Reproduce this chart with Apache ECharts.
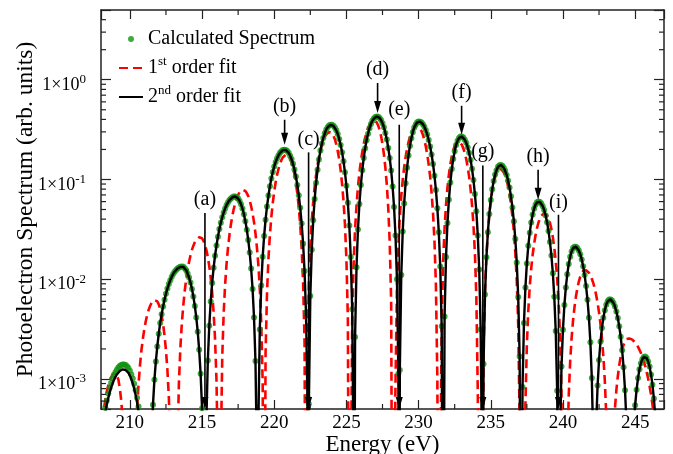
<!DOCTYPE html>
<html>
<head>
<meta charset="utf-8">
<script src="https://cdn.jsdelivr.net/npm/echarts@6/dist/echarts.min.js"></script>
<style>
  html, body { margin: 0; padding: 0; background: #fff; }
  #chart { width: 673px; height: 454px; }
</style>
</head>
<body>
<div id="chart"></div>
<script>
// energy grid of the spectrum (eV)
const energy = [
  208.0,208.1,208.2,208.3,208.4,208.5,208.6,208.7,208.8,208.9,
  209.0,209.1,209.2,209.3,209.4,209.5,209.6,209.7,209.8,209.9,
  210.0,210.1,210.2,210.3,210.4,210.5,210.6,210.7,210.8,210.9,
  211.0,211.1,211.2,211.3,211.4,211.5,211.6,211.7,211.8,211.9,
  212.0,212.1,212.2,212.3,212.4,212.5,212.6,212.7,212.8,212.9,
  213.0,213.1,213.2,213.3,213.4,213.5,213.6,213.7,213.8,213.9,
  214.0,214.1,214.2,214.3,214.4,214.5,214.6,214.7,214.8,214.9,
  215.0,215.1,215.2,215.3,215.4,215.5,215.6,215.7,215.8,215.9,
  216.0,216.1,216.2,216.3,216.4,216.5,216.6,216.7,216.8,216.9,
  217.0,217.1,217.2,217.3,217.4,217.5,217.6,217.7,217.8,217.9,
  218.0,218.1,218.2,218.3,218.4,218.5,218.6,218.7,218.8,218.9,
  219.0,219.1,219.2,219.3,219.4,219.5,219.6,219.7,219.8,219.9,
  220.0,220.1,220.2,220.3,220.4,220.5,220.6,220.7,220.8,220.9,
  221.0,221.1,221.2,221.3,221.4,221.5,221.6,221.7,221.8,221.9,
  222.0,222.1,222.2,222.3,222.4,222.5,222.6,222.7,222.8,222.9,
  223.0,223.1,223.2,223.3,223.4,223.5,223.6,223.7,223.8,223.9,
  224.0,224.1,224.2,224.3,224.4,224.5,224.6,224.7,224.8,224.9,
  225.0,225.1,225.2,225.3,225.4,225.5,225.6,225.7,225.8,225.9,
  226.0,226.1,226.2,226.3,226.4,226.5,226.6,226.7,226.8,226.9,
  227.0,227.1,227.2,227.3,227.4,227.5,227.6,227.7,227.8,227.9,
  228.0,228.1,228.2,228.3,228.4,228.5,228.6,228.7,228.8,228.9,
  229.0,229.1,229.2,229.3,229.4,229.5,229.6,229.7,229.8,229.9,
  230.0,230.1,230.2,230.3,230.4,230.5,230.6,230.7,230.8,230.9,
  231.0,231.1,231.2,231.3,231.4,231.5,231.6,231.7,231.8,231.9,
  232.0,232.1,232.2,232.3,232.4,232.5,232.6,232.7,232.8,232.9,
  233.0,233.1,233.2,233.3,233.4,233.5,233.6,233.7,233.8,233.9,
  234.0,234.1,234.2,234.3,234.4,234.5,234.6,234.7,234.8,234.9,
  235.0,235.1,235.2,235.3,235.4,235.5,235.6,235.7,235.8,235.9,
  236.0,236.1,236.2,236.3,236.4,236.5,236.6,236.7,236.8,236.9,
  237.0,237.1,237.2,237.3,237.4,237.5,237.6,237.7,237.8,237.9,
  238.0,238.1,238.2,238.3,238.4,238.5,238.6,238.7,238.8,238.9,
  239.0,239.1,239.2,239.3,239.4,239.5,239.6,239.7,239.8,239.9,
  240.0,240.1,240.2,240.3,240.4,240.5,240.6,240.7,240.8,240.9,
  241.0,241.1,241.2,241.3,241.4,241.5,241.6,241.7,241.8,241.9,
  242.0,242.1,242.2,242.3,242.4,242.5,242.6,242.7,242.8,242.9,
  243.0,243.1,243.2,243.3,243.4,243.5,243.6,243.7,243.8,243.9,
  244.0,244.1,244.2,244.3,244.4,244.5,244.6,244.7,244.8,244.9,
  245.0,245.1,245.2,245.3,245.4,245.5,245.6,245.7,245.8,245.9,
  246.0,246.1,246.2,246.3,246.4,246.5,246.6,246.7,246.8,246.9,
  247.0
];

// green dots
const calcSpectrum = [
  2.52e-4,3.30e-4,4.2e-4,5.15e-4,6.1e-4,7.15e-4,8.15e-4,9.1e-4,1.01e-3,1.10e-3,
  1.17e-3,1.24e-3,1.30e-3,1.35e-3,1.38e-3,1.40e-3,1.40e-3,1.38e-3,1.34e-3,1.29e-3,
  1.21e-3,1.11e-3,1.01e-3,8.95e-4,7.7e-4,6.5e-4,5.3e-4,4.1e-4,3.05e-4,2.1e-4,
  1.3e-4,6.7e-5,2.4e-5,2e-6,6.2e-5,2.5e-4,5.5e-4,9.8e-4,1.5e-3,2.12e-3,
  2.84e-3,3.64e-3,4.46e-3,5.34e-3,6.24e-3,7.16e-3,8.06e-3,8.94e-3,9.78e-3,1.06e-2,
  1.13e-2,1.19e-2,1.24e-2,1.28e-2,1.31e-2,1.33e-2,1.34e-2,1.33e-2,1.29e-2,1.23e-2,
  1.14e-2,1.04e-2,9.26e-3,8.0e-3,6.7e-3,5.39e-3,4.14e-3,2.98e-3,1.96e-3,1.13e-3,
  5.1e-4,1.3e-4,1e-6,3.85e-4,1.53e-3,3.41e-3,5.98e-3,9.19e-3,1.30e-2,1.72e-2,
  2.18e-2,2.67e-2,3.18e-2,3.69e-2,4.19e-2,4.67e-2,5.13e-2,5.54e-2,5.91e-2,6.22e-2,
  6.46e-2,6.63e-2,6.74e-2,6.76e-2,6.67e-2,6.44e-2,6.09e-2,5.65e-2,5.11e-2,4.48e-2,
  3.82e-2,3.14e-2,2.48e-2,1.85e-2,1.28e-2,7.96e-3,4.14e-3,1.51e-3,1.69e-4,3.5e-4,
  3.14e-3,8.64e-3,1.68e-2,2.71e-2,3.95e-2,5.36e-2,6.91e-2,8.53e-2,0.102,0.119,
  0.135,0.150,0.163,0.175,0.185,0.192,0.197,0.199,0.198,0.193,
  0.185,0.173,0.160,0.144,0.126,0.107,8.81e-2,6.95e-2,5.20e-2,3.62e-2,
  2.27e-2,1.21e-2,4.64e-3,6.6e-4,5.6e-4,6.8e-3,1.98e-2,3.89e-2,6.36e-2,9.26e-2,
  0.125,0.159,0.195,0.229,0.261,0.290,0.315,0.334,0.347,0.353,
  0.353,0.345,0.332,0.311,0.285,0.255,0.222,0.188,0.152,0.118,
  8.65e-2,5.83e-2,3.46e-2,1.67e-2,5.0e-3,1.4e-4,2.64e-3,1.32e-2,3.15e-2,5.69e-2,
  8.82e-2,0.124,0.164,0.206,0.247,0.288,0.326,0.359,0.387,0.408,
  0.422,0.428,0.425,0.414,0.394,0.366,0.333,0.293,0.251,0.207,
  0.164,0.123,8.5e-2,5.29e-2,2.75e-2,1.0e-2,1.13e-3,1.23e-3,1.10e-2,3.01e-2,
  5.75e-2,9.17e-2,0.131,0.174,0.217,0.259,0.298,0.331,0.356,0.374,
  0.382,0.380,0.372,0.358,0.338,0.312,0.282,0.249,0.214,0.178,
  0.143,0.109,7.85e-2,5.16e-2,2.96e-2,1.34e-2,3.37e-3,1e-6,4.24e-3,1.67e-2,
  3.66e-2,6.27e-2,9.33e-2,0.127,0.160,0.192,0.221,0.244,0.261,0.269,
  0.269,0.263,0.250,0.233,0.211,0.185,0.157,0.128,9.89e-2,7.17e-2,
  4.81e-2,2.75e-2,1.25e-2,3.14e-3,1.3e-4,1.41e-3,7.03e-3,1.66e-2,2.96e-2,4.51e-2,
  6.21e-2,7.96e-2,9.66e-2,0.112,0.124,0.134,0.139,0.140,0.137,0.131,
  0.122,0.111,9.77e-2,8.30e-2,6.77e-2,5.25e-2,3.82e-2,2.53e-2,1.47e-2,6.65e-3,
  1.68e-3,1e-6,8.3e-4,3.64e-3,8.27e-3,1.44e-2,2.16e-2,2.93e-2,3.71e-2,4.45e-2,
  5.08e-2,5.58e-2,5.90e-2,6.02e-2,5.96e-2,5.74e-2,5.40e-2,4.93e-2,4.36e-2,3.72e-2,
  3.04e-2,2.36e-2,1.73e-2,1.15e-2,6.66e-3,3.02e-3,7.6e-4,3e-5,2.66e-4,1.33e-3,
  3.12e-3,5.50e-3,8.28e-3,1.12e-2,1.42e-2,1.68e-2,1.90e-2,2.05e-2,2.12e-2,2.12e-2,
  2.06e-2,1.94e-2,1.78e-2,1.58e-2,1.35e-2,1.10e-2,8.55e-3,6.22e-3,4.11e-3,2.33e-3,
  1.02e-3,2.3e-4,6e-5,3.51e-4,8.61e-4,1.55e-3,2.36e-3,3.24e-3,4.11e-3,4.90e-3,
  5.56e-3,6.02e-3,6.27e-3,6.28e-3,6.12e-3,5.79e-3,5.33e-3,4.76e-3,4.08e-3,3.37e-3,
  2.65e-3,1.94e-3,1.31e-3,7.7e-4,3.63e-4,1.0e-4,1e-6,5.0e-5,1.63e-4,3.32e-4,
  5.44e-4,7.80e-4,1.02e-3,1.25e-3,1.44e-3,1.58e-3,1.66e-3,1.68e-3,1.62e-3,1.50e-3,
  1.33e-3,1.11e-3,8.76e-4,6.36e-4,4.12e-4,2.25e-4,8.8e-5,1.3e-5,1e-5,3e-5,
  6e-5
];

// red dashed, 1st order fit
const fit1st = [
  2.74e-4,3.84e-4,5.0e-4,6.23e-4,7.43e-4,8.56e-4,9.55e-4,1.04e-3,1.10e-3,1.14e-3,
  1.15e-3,1.11e-3,9.93e-4,8.15e-4,6.08e-4,3.93e-4,2.04e-4,6.8e-5,3.7e-6,1e-6,
  1e-6,1e-6,1e-6,4.1e-5,2.07e-4,4.92e-4,8.79e-4,1.37e-3,1.94e-3,2.53e-3,
  3.16e-3,3.79e-3,4.39e-3,4.93e-3,5.39e-3,5.77e-3,6.04e-3,6.18e-3,6.18e-3,5.99e-3,
  5.60e-3,5.03e-3,4.34e-3,3.55e-3,2.73e-3,1.94e-3,1.23e-3,6.52e-4,2.41e-4,2.7e-5,
  1e-6,1e-6,1e-6,2.35e-4,9.35e-4,2.07e-3,3.61e-3,5.48e-3,7.62e-3,9.99e-3,
  1.25e-2,1.49e-2,1.74e-2,1.97e-2,2.17e-2,2.35e-2,2.48e-2,2.58e-2,2.63e-2,2.63e-2,
  2.57e-2,2.43e-2,2.22e-2,1.96e-2,1.67e-2,1.35e-2,1.03e-2,7.36e-3,4.69e-3,2.52e-3,
  9.74e-4,1.37e-4,1e-6,1.9e-4,1.69e-3,4.66e-3,8.94e-3,1.44e-2,2.09e-2,2.80e-2,
  3.55e-2,4.33e-2,5.08e-2,5.79e-2,6.44e-2,6.99e-2,7.42e-2,7.71e-2,7.86e-2,7.86e-2,
  7.67e-2,7.30e-2,6.81e-2,6.16e-2,5.40e-2,4.58e-2,3.73e-2,2.89e-2,2.09e-2,1.40e-2,
  8.04e-3,3.64e-3,9.14e-4,1e-6,1.84e-3,7.27e-3,1.61e-2,2.78e-2,4.22e-2,5.83e-2,
  7.59e-2,9.39e-2,0.112,0.128,0.144,0.157,0.167,0.173,0.177,0.176,
  0.171,0.162,0.148,0.132,0.113,9.26e-2,7.22e-2,5.27e-2,3.52e-2,2.04e-2,
  9.26e-3,2.35e-3,1e-6,1.78e-3,8.93e-3,2.13e-2,3.84e-2,5.97e-2,8.45e-2,0.111,
  0.140,0.169,0.197,0.223,0.247,0.267,0.283,0.294,0.299,0.299,
  0.291,0.275,0.253,0.225,0.193,0.159,0.124,9.04e-2,6.04e-2,3.51e-2,
  1.59e-2,4.05e-3,1e-6,1e-6,3.6e-3,1.43e-2,3.17e-2,5.48e-2,8.37e-2,0.117,
  0.152,0.189,0.227,0.263,0.297,0.327,0.352,0.371,0.384,0.390,
  0.387,0.373,0.348,0.314,0.273,0.226,0.178,0.131,8.8e-2,5.12e-2,
  2.34e-2,5.93e-3,1e-6,1e-6,9.0e-4,8.11e-3,2.22e-2,4.26e-2,6.85e-2,9.88e-2,
  0.132,0.167,0.203,0.236,0.268,0.295,0.317,0.333,0.343,0.345,
  0.339,0.326,0.306,0.280,0.249,0.214,0.178,0.141,0.107,7.38e-2,
  4.62e-2,2.41e-2,8.76e-3,9.9e-4,1e-6,1e-6,3.77e-3,1.48e-2,3.25e-2,5.57e-2,
  8.29e-2,0.112,0.142,0.171,0.196,0.217,0.232,0.239,0.239,0.233,
  0.222,0.205,0.184,0.160,0.133,0.107,8.03e-2,5.61e-2,3.51e-2,1.84e-2,
  6.72e-3,7.5e-4,1e-6,1e-6,1e-6,2.01e-3,7.91e-3,1.73e-2,2.97e-2,4.42e-2,
  6.0e-2,7.6e-2,9.13e-2,0.105,0.116,0.124,0.128,0.128,0.124,0.118,
  0.109,9.81e-2,8.51e-2,7.12e-2,5.68e-2,4.28e-2,2.99e-2,1.87e-2,9.8e-3,3.58e-3,
  4.0e-4,1e-6,1e-6,1e-6,5.57e-4,2.21e-3,4.89e-3,8.44e-3,1.27e-2,1.75e-2,
  2.25e-2,2.76e-2,3.24e-2,3.68e-2,4.05e-2,4.33e-2,4.52e-2,4.6e-2,4.56e-2,4.38e-2,
  4.08e-2,3.67e-2,3.18e-2,2.64e-2,2.07e-2,1.52e-2,1.02e-2,5.97e-3,2.72e-3,6.9e-4,
  1e-6,1e-6,1e-6,1.72e-4,6.78e-4,1.50e-3,2.57e-3,3.86e-3,5.25e-3,6.71e-3,
  8.14e-3,9.47e-3,1.06e-2,1.15e-2,1.21e-2,1.24e-2,1.23e-2,1.21e-2,1.16e-2,1.10e-2,
  1.01e-2,9.17e-3,8.09e-3,6.96e-3,5.79e-3,4.64e-3,3.55e-3,2.55e-3,1.68e-3,9.62e-4,
  4.34e-4,1.09e-4,1e-6,2.4e-5,1.19e-4,2.82e-4,5.03e-4,7.71e-4,1.06e-3,1.37e-3,
  1.68e-3,1.96e-3,2.20e-3,2.38e-3,2.51e-3,2.56e-3,2.55e-3,2.53e-3,2.48e-3,2.41e-3,
  2.32e-3,2.22e-3,2.10e-3,1.96e-3,1.82e-3,1.66e-3,1.50e-3,1.34e-3,1.17e-3,1.01e-3,
  8.48e-4,6.98e-4,5.56e-4,4.24e-4,3.11e-4,2.10e-4,1.28e-4,6.6e-5,2.4e-5,2.6e-6,
  1e-6
];

// black solid, 2nd order fit
const fit2nd = [
  2.25e-4,2.95e-4,3.75e-4,4.6e-4,5.5e-4,6.4e-4,7.3e-4,8.2e-4,9.0e-4,9.8e-4,
  1.05e-3,1.11e-3,1.16e-3,1.20e-3,1.23e-3,1.25e-3,1.25e-3,1.23e-3,1.20e-3,1.15e-3,
  1.08e-3,9.95e-4,9.0e-4,8.0e-4,6.9e-4,5.8e-4,4.7e-4,3.7e-4,2.7e-4,1.9e-4,
  1.2e-4,6e-5,2.2e-5,2e-6,6.2e-5,2.5e-4,5.5e-4,9.8e-4,1.5e-3,2.12e-3,
  2.84e-3,3.64e-3,4.46e-3,5.34e-3,6.24e-3,7.16e-3,8.06e-3,8.94e-3,9.78e-3,1.06e-2,
  1.13e-2,1.19e-2,1.24e-2,1.28e-2,1.31e-2,1.33e-2,1.34e-2,1.33e-2,1.29e-2,1.23e-2,
  1.14e-2,1.04e-2,9.26e-3,8.0e-3,6.7e-3,5.39e-3,4.14e-3,2.98e-3,1.96e-3,1.13e-3,
  5.1e-4,1.3e-4,1e-6,3.85e-4,1.53e-3,3.41e-3,5.98e-3,9.19e-3,1.30e-2,1.72e-2,
  2.18e-2,2.67e-2,3.18e-2,3.69e-2,4.19e-2,4.67e-2,5.13e-2,5.54e-2,5.91e-2,6.22e-2,
  6.46e-2,6.63e-2,6.74e-2,6.76e-2,6.67e-2,6.44e-2,6.09e-2,5.65e-2,5.11e-2,4.48e-2,
  3.82e-2,3.14e-2,2.48e-2,1.85e-2,1.28e-2,7.96e-3,4.14e-3,1.51e-3,1.69e-4,3.5e-4,
  3.14e-3,8.64e-3,1.68e-2,2.71e-2,3.95e-2,5.36e-2,6.91e-2,8.53e-2,0.102,0.119,
  0.135,0.150,0.163,0.175,0.185,0.192,0.197,0.199,0.198,0.193,
  0.185,0.173,0.160,0.144,0.126,0.107,8.81e-2,6.95e-2,5.20e-2,3.62e-2,
  2.27e-2,1.21e-2,4.64e-3,6.6e-4,5.6e-4,6.8e-3,1.98e-2,3.89e-2,6.36e-2,9.26e-2,
  0.125,0.159,0.195,0.229,0.261,0.290,0.315,0.334,0.347,0.353,
  0.353,0.345,0.332,0.311,0.285,0.255,0.222,0.188,0.152,0.118,
  8.65e-2,5.83e-2,3.46e-2,1.67e-2,5.0e-3,1.4e-4,2.64e-3,1.32e-2,3.15e-2,5.69e-2,
  8.82e-2,0.124,0.164,0.206,0.247,0.288,0.326,0.359,0.387,0.408,
  0.422,0.428,0.425,0.414,0.394,0.366,0.333,0.293,0.251,0.207,
  0.164,0.123,8.5e-2,5.29e-2,2.75e-2,1.0e-2,1.13e-3,1.23e-3,1.10e-2,3.01e-2,
  5.75e-2,9.17e-2,0.131,0.174,0.217,0.259,0.298,0.331,0.356,0.374,
  0.382,0.380,0.372,0.358,0.338,0.312,0.282,0.249,0.214,0.178,
  0.143,0.109,7.85e-2,5.16e-2,2.96e-2,1.34e-2,3.37e-3,1e-6,4.24e-3,1.67e-2,
  3.66e-2,6.27e-2,9.33e-2,0.127,0.160,0.192,0.221,0.244,0.261,0.269,
  0.269,0.263,0.250,0.233,0.211,0.185,0.157,0.128,9.89e-2,7.17e-2,
  4.81e-2,2.75e-2,1.25e-2,3.14e-3,1.3e-4,1.41e-3,7.03e-3,1.66e-2,2.96e-2,4.51e-2,
  6.21e-2,7.96e-2,9.66e-2,0.112,0.124,0.134,0.139,0.140,0.137,0.131,
  0.122,0.111,9.77e-2,8.30e-2,6.77e-2,5.25e-2,3.82e-2,2.53e-2,1.47e-2,6.65e-3,
  1.68e-3,1e-6,8.3e-4,3.64e-3,8.27e-3,1.44e-2,2.16e-2,2.93e-2,3.71e-2,4.45e-2,
  5.08e-2,5.58e-2,5.90e-2,6.02e-2,5.96e-2,5.74e-2,5.40e-2,4.93e-2,4.36e-2,3.72e-2,
  3.04e-2,2.36e-2,1.73e-2,1.15e-2,6.66e-3,3.02e-3,7.6e-4,3e-5,2.66e-4,1.33e-3,
  3.12e-3,5.50e-3,8.28e-3,1.12e-2,1.42e-2,1.68e-2,1.90e-2,2.05e-2,2.12e-2,2.12e-2,
  2.06e-2,1.94e-2,1.78e-2,1.58e-2,1.35e-2,1.10e-2,8.55e-3,6.22e-3,4.11e-3,2.33e-3,
  1.02e-3,2.3e-4,6e-5,3.51e-4,8.61e-4,1.55e-3,2.36e-3,3.24e-3,4.11e-3,4.90e-3,
  5.56e-3,6.02e-3,6.27e-3,6.28e-3,6.12e-3,5.79e-3,5.33e-3,4.76e-3,4.08e-3,3.37e-3,
  2.65e-3,1.94e-3,1.31e-3,7.7e-4,3.63e-4,1.0e-4,1e-6,5.0e-5,1.63e-4,3.32e-4,
  5.44e-4,7.80e-4,1.02e-3,1.25e-3,1.44e-3,1.58e-3,1.66e-3,1.68e-3,1.62e-3,1.50e-3,
  1.33e-3,1.11e-3,8.76e-4,6.36e-4,4.12e-4,2.25e-4,8.8e-5,1.3e-5,1e-5,3e-5,
  6e-5
];
// minima of the 2nd order fit between grid points (value ~0)
const fit2ndZeros = [218.85, 222.36, 225.52, 228.65, 234.42, 237.11, 239.72, 242.16];
const zeroLevel = 1e-6;

// arrows and labels
const markLabels = ["(a)", "(b)", "(c)", "(d)", "(e)", "(f)", "(g)", "(h)", "(i)"];
const markEnergy = [215.2, 220.72, 222.38, 227.16, 228.66, 232.98, 234.45, 238.28, 239.69];
const markStart  = [0.046, 0.397, 0.187, 0.927, 0.354, 0.548, 0.138, 0.125, 0.0443];
const markTip    = [5e-4, 0.223, 5e-4, 0.463, 5e-4, 0.281, 5e-4, 0.0626, 5e-4];
const markTextY  = [0.0625, 0.54, 0.25, 1.26, 0.5, 0.736, 0.191, 0.17, 0.058];

// axis ticks
const xMin = 208, xMax = 247;
const yMin = 5e-4, yMax = 5;
const yTickExponents = [-3, -2, -1, 0];
const xMinorTicks = [212.5, 217.5, 222.5, 227.5, 232.5, 237.5, 242.5];
const yMinorTicks = [
  6e-4, 7e-4, 8e-4, 9e-4,
  2e-3, 3e-3, 4e-3, 5e-3, 6e-3, 7e-3, 8e-3, 9e-3,
  2e-2, 3e-2, 4e-2, 5e-2, 6e-2, 7e-2, 8e-2, 9e-2,
  0.2, 0.3, 0.4, 0.5, 0.6, 0.7, 0.8, 0.9,
  2, 3, 4
];

const FONT = '"Liberation Serif", "Times New Roman", serif';
const axisColor = "#222";

const calcData = energy.map((e, i) => [e, calcSpectrum[i]]);
const fit1Data = energy.map((e, i) => [e, fit1st[i]]);
const fit2Data = energy.map((e, i) => [e, fit2nd[i]])
  .concat(fit2ndZeros.map((e) => [e, zeroLevel]))
  .sort((a, b) => a[0] - b[0]);
const markData = markEnergy.map((e, i) => [e, markStart[i], markTip[i], markTextY[i]]);

const chart = echarts.init(document.getElementById("chart"));

const baseAxisLine = { show: true, lineStyle: { color: axisColor, width: 1.5 } };
const hiddenSymbol = { opacity: 0, borderWidth: 0 };

const option = {
  animation: false,
  backgroundColor: "#fff",
  grid: { left: 101, right: 9, top: 10, bottom: 45, outerBoundsMode: "none", containLabel: false },
  legend: {
    data: [
      { name: "Calculated Spectrum" },
      { name: "1st order fit", itemStyle: hiddenSymbol },
      { name: "2nd order fit", itemStyle: hiddenSymbol },
    ],
    orient: "vertical",
    left: 113,
    top: 24,
    itemWidth: 24,
    itemHeight: 6,
    itemGap: 6,
    itemTextGap: 11,
    selectedMode: false,
    formatter: (name) => {
      const m = name.match(/^(\d)(st|nd)(.*)$/);
      if (!m) return "{t|" + name + "}";
      return "{t|" + m[1] + "}{s|" + m[2] + "}{t|" + m[3] + "}";
    },
    textStyle: {
      fontFamily: FONT,
      fontSize: 20,
      color: "#000",
      rich: {
        t: { fontFamily: FONT, fontSize: 20, lineHeight: 26, color: "#000" },
        s: { fontFamily: FONT, fontSize: 13, lineHeight: 13, verticalAlign: "top", color: "#000" },
      },
    },
  },
  xAxis: [
    {
      type: "value",
      min: xMin,
      max: xMax,
      splitNumber: 8,
      name: "Energy (eV)",
      nameLocation: "middle",
      nameGap: 24,
      nameMoveOverlap: false,
      nameTextStyle: { fontFamily: FONT, fontSize: 23, color: "#000" },
      axisLine: baseAxisLine,
      axisTick: { show: true, inside: true, length: 9, lineStyle: { color: axisColor, width: 1.2 } },
      axisLabel: {
        margin: 5,
        fontFamily: FONT,
        fontSize: 19,
        color: "#000",
        formatter: (v) => (Math.abs(v % 5) < 1e-9 ? String(v) : ""),
      },
      splitLine: { show: false },
    },
    {
      type: "value",
      position: "top",
      min: xMin,
      max: xMax,
      splitNumber: 8,
      axisLine: baseAxisLine,
      axisTick: { show: true, inside: true, length: 9, lineStyle: { color: axisColor, width: 1.2 } },
      axisLabel: { show: false },
      splitLine: { show: false },
    },
  ],
  yAxis: [
    {
      type: "log",
      logBase: 10,
      min: yMin,
      max: yMax,
      name: "Photoelectron Spectrum (arb. units)",
      nameLocation: "middle",
      nameGap: 63,
      nameMoveOverlap: false,
      nameTextStyle: { fontFamily: FONT, fontSize: 23.5, color: "#000" },
      axisLine: baseAxisLine,
      axisTick: { show: true, inside: true, length: 10, lineStyle: { color: axisColor, width: 1.2 } },
      axisLabel: {
        margin: 15,
        padding: [11, 0, 0, 0],
        formatter: (v) => {
          const e = Math.log10(v);
          const r = Math.round(e);
          if (Math.abs(e - r) > 1e-6 || yTickExponents.indexOf(r) < 0) return "";
          return "{t|1×10}{s|" + r + "}";
        },
        rich: {
          t: { fontFamily: FONT, fontSize: 18, lineHeight: 24, color: "#000" },
          s: { fontFamily: FONT, fontSize: 13, lineHeight: 13, verticalAlign: "top", color: "#000" },
        },
      },
      splitLine: { show: false },
    },
    {
      type: "log",
      logBase: 10,
      position: "right",
      min: yMin,
      max: yMax,
      axisLine: baseAxisLine,
      axisTick: { show: true, inside: true, length: 10, lineStyle: { color: axisColor, width: 1.2 } },
      axisLabel: { show: false },
      splitLine: { show: false },
    },
  ],
  series: [
    {
      name: "1st order fit",
      type: "line",
      data: fit1Data,
      symbol: "none",
      z: 2,
      lineStyle: { color: "#ff0000", width: 2.6, type: [9, 5] },
      itemStyle: { color: "#ff0000" },
    },
    {
      name: "Calculated Spectrum",
      type: "scatter",
      data: calcData,
      symbol: "circle",
      symbolSize: 6,
      z: 3,
      itemStyle: { color: "#129412" },
    },
    {
      name: "2nd order fit",
      type: "line",
      data: fit2Data,
      symbol: "none",
      z: 4,
      lineStyle: { color: "#000", width: 2.4 },
      itemStyle: { color: "#000" },
    },
    {
      // minor ticks on the y axes (left and right)
      type: "custom",
      silent: true,
      z: 5,
      data: yMinorTicks.map((v) => [xMin, v]),
      renderItem: (params, api) => {
        const cs = params.coordSys;
        const y = api.coord([api.value(0), api.value(1)])[1];
        const st = { stroke: axisColor, lineWidth: 1.2 };
        return {
          type: "group",
          children: [
            { type: "line", shape: { x1: cs.x, y1: y, x2: cs.x + 5, y2: y }, style: st },
            { type: "line", shape: { x1: cs.x + cs.width, y1: y, x2: cs.x + cs.width - 5, y2: y }, style: st },
          ],
        };
      },
    },
    {
      // minor ticks on the x axes (bottom and top)
      type: "custom",
      silent: true,
      z: 5,
      data: xMinorTicks.map((v) => [v, 1]),
      renderItem: (params, api) => {
        const cs = params.coordSys;
        const x = api.coord([api.value(0), api.value(1)])[0];
        const st = { stroke: axisColor, lineWidth: 1.2 };
        return {
          type: "group",
          children: [
            { type: "line", shape: { x1: x, y1: cs.y + cs.height, x2: x, y2: cs.y + cs.height - 5 }, style: st },
            { type: "line", shape: { x1: x, y1: cs.y, x2: x, y2: cs.y + 5 }, style: st },
          ],
        };
      },
    },
    {
      // arrows with labels (a)..(i)
      type: "custom",
      silent: true,
      z: 6,
      data: markData,
      renderItem: (params, api) => {
        const e = api.value(0);
        const start = api.coord([e, api.value(1)]);
        const tip = api.coord([e, api.value(2)]);
        const txt = api.coord([e, api.value(3)]);
        const head = 12, half = 3.5;
        return {
          type: "group",
          children: [
            {
              type: "line",
              shape: { x1: start[0], y1: start[1], x2: tip[0], y2: tip[1] - head + 2 },
              style: { stroke: "#000", lineWidth: 1.6 },
            },
            {
              type: "polygon",
              shape: { points: [[tip[0] - half, tip[1] - head], [tip[0] + half, tip[1] - head], [tip[0], tip[1]]] },
              style: { fill: "#000" },
            },
            {
              type: "text",
              style: {
                text: markLabels[params.dataIndex],
                x: txt[0],
                y: txt[1],
                align: "center",
                verticalAlign: "middle",
                font: "20px " + FONT,
                fill: "#000",
              },
            },
          ],
        };
      },
    },
  ],
};

chart.setOption(option);
</script>
</body>
</html>
